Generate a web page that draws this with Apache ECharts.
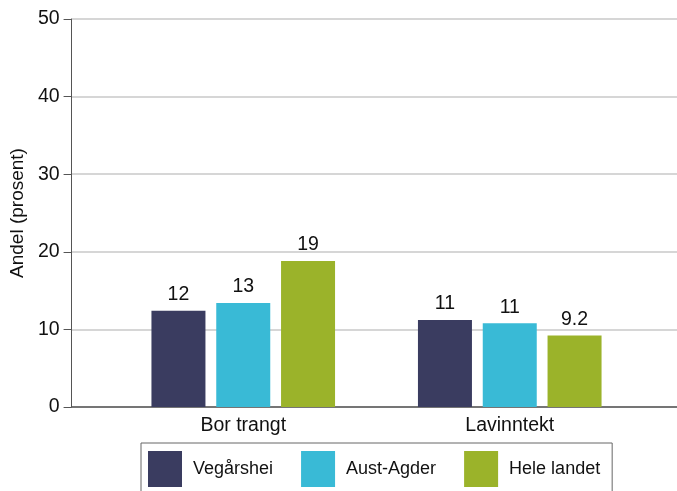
<!DOCTYPE html>
<html>
<head>
<meta charset="utf-8">
<script src="https://cdn.jsdelivr.net/npm/echarts@6/dist/echarts.min.js"></script>
<style>html,body{margin:0;padding:0;background:#fff}#c{width:677px;height:491px}</style>
</head>
<body>
<div id="c"></div>
<script>
const categories = ['Bor trangt', 'Lavinntekt'];
const seriesNames = ['Vegårshei', 'Aust-Agder', 'Hele landet'];
const vegarshei = [12.4, 11.2];
const austAgder = [13.4, 10.8];
const heleLandet = [18.8, 9.2];
const yTicks = [0, 10, 20, 30, 40, 50];
const colors = ['#3a3c60', '#39bad6', '#9bb32a'];
const yTitle = 'Andel (prosent)';

const FONT = 'Liberation Sans, Arial, sans-serif';
const values = [vegarshei, austAgder, heleLandet];
const yMin = yTicks[0], yMax = yTicks[yTicks.length - 1], yStep = yTicks[1] - yTicks[0];

const chart = echarts.init(document.getElementById('c'), null, {renderer: 'canvas'});
chart.setOption({
  animation: false,
  backgroundColor: '#fff',
  grid: [
    {left: 70, right: 0, top: 19, bottom: 84},
    {left: 110, right: 34, top: 19, bottom: 84}
  ],
  xAxis: [
    {gridIndex: 0, type: 'value', min: 0, max: 1,
     axisLine: {show: true, lineStyle: {color: '#555', width: 1.5}},
     axisTick: {show: false}, axisLabel: {show: false}, splitLine: {show: false}},
    {gridIndex: 1, type: 'category', data: categories,
     axisLine: {show: false}, axisTick: {show: false},
     axisLabel: {color: '#111', fontFamily: FONT, fontSize: 19.5, margin: 9}}
  ],
  yAxis: [
    {gridIndex: 0, type: 'value', min: yMin, max: yMax, interval: yStep,
     name: yTitle, nameLocation: 'middle', nameGap: 38,
     nameTextStyle: {color: '#111', fontFamily: FONT, fontSize: 19},
     axisLine: {show: true, lineStyle: {color: '#555', width: 1}},
     axisTick: {show: true, length: 8, lineStyle: {color: '#555'}},
     axisLabel: {color: '#111', fontFamily: FONT, fontSize: 19.5, margin: 12},
     splitLine: {show: true, lineStyle: {color: '#c8c8c8', width: 1.5}}},
    {gridIndex: 1, type: 'value', min: yMin, max: yMax, interval: yStep, show: false,
     splitLine: {show: false}}
  ],
  legend: {
    left: 141, top: 443,
    data: seriesNames,
    icon: 'rect', itemWidth: 34, itemHeight: 36, itemGap: 28,
    padding: [8, 12, 20, 7],
    borderColor: '#666', borderWidth: 1,
    textStyle: {color: '#111', fontFamily: FONT, fontSize: 18, padding: [0, 0, 0, 6]}
  },
  series: seriesNames.map((name, i) => ({
    name, type: 'bar', xAxisIndex: 1, yAxisIndex: 1,
    data: values[i],
    barWidth: 54, barGap: '20%',
    itemStyle: {color: colors[i]},
    label: {show: true, position: 'top', distance: 6, color: '#111', fontFamily: FONT, fontSize: 19.5,
      formatter: p => String(Number(p.value.toPrecision(2)))}
  }))
});
</script>
</body>
</html>
